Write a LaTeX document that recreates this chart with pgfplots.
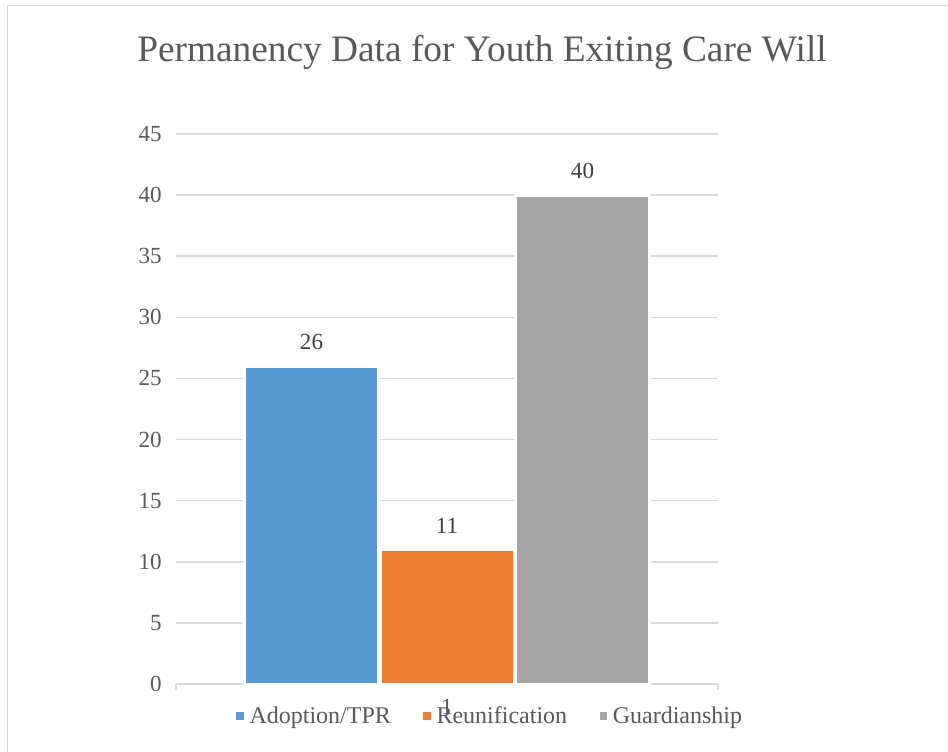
\documentclass[border=0pt]{standalone}
\usepackage{fontspec}
\setmainfont{Liberation Serif}
\usepackage{pgfplots}
\pgfplotsset{compat=1.18}
\definecolor{cblue}{HTML}{5B9BD5}
\definecolor{corange}{HTML}{ED7D31}
\definecolor{cgray}{HTML}{A5A5A5}
\definecolor{txt}{HTML}{595959}
\definecolor{lbl}{HTML}{404040}
\definecolor{gridc}{HTML}{D9D9D9}
\begin{document}
\begin{tikzpicture}
\useasboundingbox (0,0) rectangle (711pt,563.25pt);
\fill[white] (0,0) rectangle (711pt,563.25pt);
\draw[gridc, line width=1.2pt] (5.6pt,-10pt) rectangle (730pt,559.1pt);
\node[anchor=base, text=txt, font=\fontsize{28pt}{32pt}\selectfont] at (361.5pt,516.75pt) {Permanency Data for Youth Exiting Care Will};
\begin{axis}[
  at={(132pt,50.25pt)}, anchor=south west,
  scale only axis, width=406.5pt, height=412.5pt,
  xmin=0.5, xmax=1.5, ymin=0, ymax=45,
  ytick={0,5,...,45},
  xtick={0.5,1.5}, xticklabels={},
  xmajorgrids=false,
  x tick style={draw=gridc, line width=1.1pt},
  tick align=outside, major tick length=4.5pt,
  ytick style={draw=none},
  ymajorgrids, grid style={draw=gridc, line width=1.1pt},
  axis x line*=bottom, axis y line*=left,
  y axis line style={draw=none},
  x axis line style={draw=gridc, line width=1.1pt, -},
  /pgf/number format/assume math mode=true,
  tick label style={text=txt, font=\fontsize{17.3pt}{20pt}\selectfont},
  yticklabel style={inner sep=0pt, xshift=-6pt},
  legend columns=3,
  legend style={at={(0.5775,-0.058)}, anchor=center, draw=none, fill=none,
    font=\fontsize{18pt}{21pt}\selectfont, text=txt,
    /tikz/every even column/.append style={column sep=20pt}},
  legend image code/.code={\fill[#1] (2pt,-4pt) rectangle (10pt,4pt);},
  every node near coord/.append style={text=lbl, font=\fontsize{17.3pt}{20pt}\selectfont, anchor=south, inner sep=0pt, yshift=11pt},
  clip=false,
]
\addplot[ybar, bar width=100.5pt, bar shift=0pt, fill=cblue, draw=white, line width=2.25pt, nodes near coords] coordinates {(0.75,26)};
\addlegendentry{Adoption/TPR}
\addplot[ybar, bar width=100.5pt, bar shift=0pt, fill=corange, draw=white, line width=2.25pt, nodes near coords] coordinates {(1,11)};
\addlegendentry{Reunification}
\addplot[ybar, bar width=100.5pt, bar shift=0pt, fill=cgray, draw=white, line width=2.25pt, nodes near coords] coordinates {(1.25,40)};
\addlegendentry{Guardianship}
\node[anchor=north, inner sep=0pt, text=txt, font=\fontsize{17.3pt}{20pt}\selectfont] at (axis cs:1,0) [yshift=-11pt] {1};
\end{axis}
\end{tikzpicture}
\end{document}
